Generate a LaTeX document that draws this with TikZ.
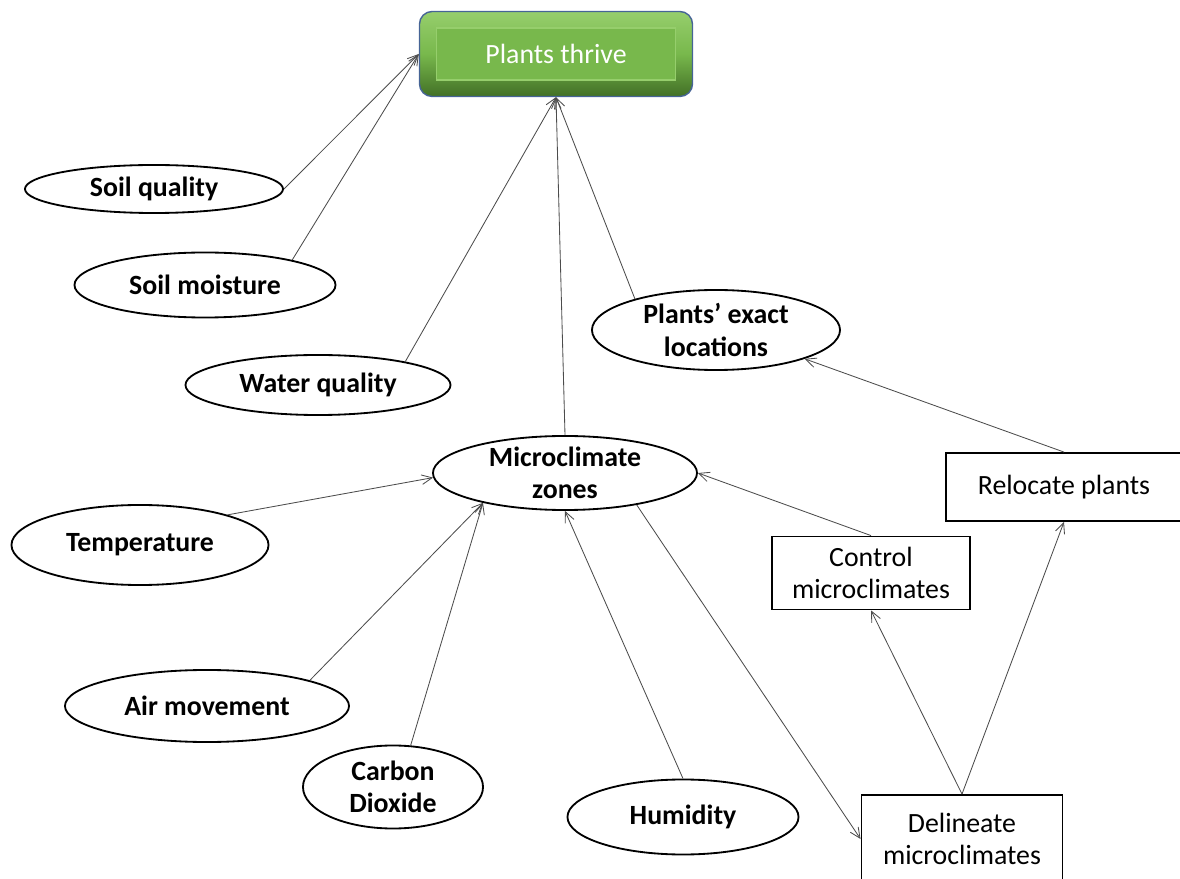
\documentclass[tikz,border=0pt]{standalone}
\usepackage{fontspec}
\setmainfont{Carlito}
\usetikzlibrary{shapes.geometric,arrows.meta}
\definecolor{leafgreen}{RGB}{120,184,76}
\definecolor{leaflight}{RGB}{150,206,108}
\definecolor{leafdark}{RGB}{66,112,38}
\definecolor{frameblue}{RGB}{70,100,150}
\begin{document}
\begin{tikzpicture}[x=0.025cm,y=-0.025cm,
    every node/.style={font=\fontsize{19.8}{22.8}\selectfont},
    oval/.style={ellipse,draw,line width=1.3pt,inner sep=0pt,align=center,
        font=\fontsize{19.8}{22.8}\selectfont\bfseries},
    task/.style={rectangle,draw,line width=1.3pt,inner sep=0pt,align=center},
    arr/.style={-{Straight Barb[length=2.6mm,width=2.4mm]},line width=0.6pt,black!70}]
    \useasboundingbox (0,0) rectangle (1180,879);

    % goal box on top
    \node[rounded corners=9pt,minimum width=6.825cm,minimum height=2.125cm,
        top color=leaflight,bottom color=leafdark,middle color=leafgreen,
        draw=frameblue,line width=1pt] (thrive) at (556,54) {};
    \node[minimum width=5.975cm,minimum height=1.3cm,fill=leafgreen,
        draw=leaflight,line width=1pt,text=white] (thrivein) at (556,54) {Plants thrive};

    % factors
    \node[oval,minimum width=6.45cm,minimum height=1.2cm] (soilq) at (154,189) {Soil quality};
    \node[oval,minimum width=6.525cm,minimum height=1.625cm] (soilm) at (205,285) {Soil moisture};
    \node[oval,minimum width=6.625cm,minimum height=1.5cm] (waterq) at (318,385) {Water quality};
    \node[oval,minimum width=6.2cm,minimum height=2cm] (ploc) at (716,330) {Plants' exact\\locations};
    \node[oval,minimum width=6.6cm,minimum height=1.85cm] (mz) at (565,473) {Microclimate\\zones};
    \node[oval,minimum width=6.425cm,minimum height=2cm] (temp) at (140,545) {Temperature};
    \node[oval,minimum width=7.1cm,minimum height=1.8cm] (air) at (207,706) {Air movement};
    \node[oval,minimum width=4.5cm,minimum height=2.075cm] (co2) at (393,787) {Carbon\\Dioxide};
    \node[oval,minimum width=5.775cm,minimum height=1.875cm] (hum) at (683,817) {Humidity};

    % actions
    \node[task,minimum width=5.9cm,minimum height=1.7cm] (reloc) at (1064,487) {Relocate plants};
    \node[task,minimum width=4.95cm,minimum height=1.825cm] (ctrl) at (871,573) {Control\\microclimates};
    \node[task,minimum width=5.025cm,minimum height=2.2cm] (delin) at (962,839) {Delineate\\microclimates};

    \foreach \a/\b in {soilq.east/thrive.west, soilm.16/thrive.west,
        waterq.15/thrive.south, mz.north/thrive.south, ploc.159/thrive.south,
        temp.19/mz.182, air.14/mz.200, co2.67/mz.200, hum.north/mz.south,
        mz.336/delin.west, ctrl.north/mz.east, delin.north/ctrl.south,
        delin.north/reloc.south, reloc.north/ploc.342}
        \draw[arr] (\a) -- (\b);
\end{tikzpicture}
\end{document}
